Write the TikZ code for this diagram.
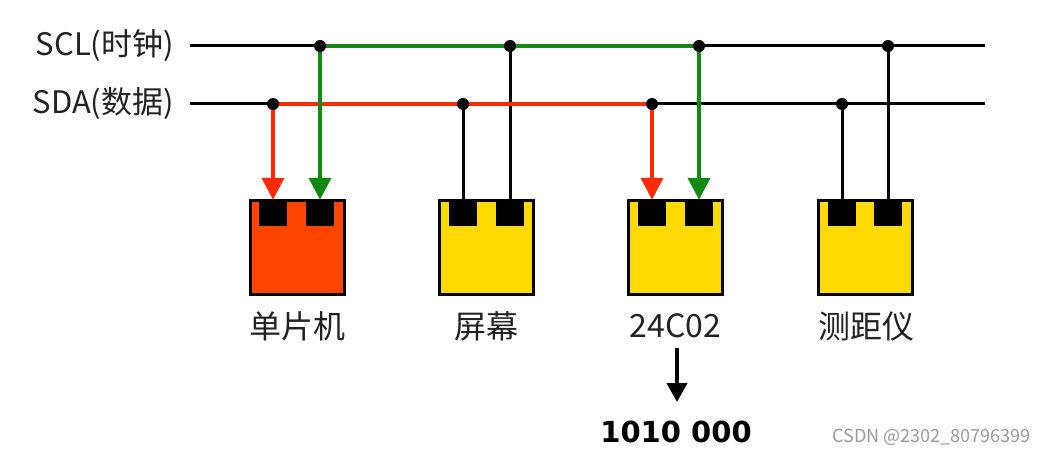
\documentclass[tikz,border=0pt]{standalone}
\usepackage{fontspec}
\setmainfont{Noto Sans CJK SC}
\newfontfamily\numfont{DejaVu Sans}
\usetikzlibrary{arrows.meta}
\definecolor{chipyellow}{HTML}{FFD900}
\definecolor{chiporange}{HTML}{FF4500}
\definecolor{sigred}{HTML}{FF2A00}
\definecolor{siggreen}{HTML}{108A10}
\definecolor{txt}{HTML}{222222}
\definecolor{wmgray}{HTML}{9A9A9A}
\begin{document}
\begin{tikzpicture}[x=1pt,y=-1pt,
  chip/.style={draw=black, line width=3pt, minimum width=94pt, minimum height=94pt, inner sep=0pt, fill=chipyellow},
  pin/.style={fill=black, minimum width=28pt, minimum height=26pt, inner sep=0pt},
  dot/.style={circle, fill=black, inner sep=0pt, minimum size=12pt},
  bus/.style={line width=3pt, black},
  wire/.style={line width=3pt, black},
  rline/.style={line width=4pt, sigred},
  gline/.style={line width=4pt, siggreen},
  rarrow/.style={rline, -{Triangle[width=22pt,length=22pt]}},
  garrow/.style={gline, -{Triangle[width=22pt,length=22pt]}},
  darrow/.style={line width=4pt, black, -{Triangle[width=20pt,length=19pt]}},
  lbl/.style={font=\fontsize{31}{34}\selectfont, text=txt, inner sep=0pt},
  clbl/.style={font=\fontsize{32}{36}\selectfont, text=txt, inner sep=0pt},
  addrlbl/.style={font=\numfont\bfseries\fontsize{29}{32}\selectfont, text=black, inner sep=0pt},
  wm/.style={font=\fontsize{18}{20}\selectfont, text=wmgray, inner sep=0pt}
]
\useasboundingbox (0,0) rectangle (1056,457);

% bus labels
\node[lbl, anchor=east] (sclLabel) at (174,46) {SCL(时钟)};
\node[lbl, anchor=east] (sdaLabel) at (174,104) {SDA(数据)};

% bus ends
\coordinate (sclL) at (190,46);
\coordinate (sclR) at (985,46);
\coordinate (sdaL) at (190,104);
\coordinate (sdaR) at (985,104);

% junctions
\coordinate (c1) at (320,46);
\coordinate (c2) at (510,46);
\coordinate (c3) at (699,46);
\coordinate (c4) at (888,46);
\coordinate (d1) at (273,104);
\coordinate (d2) at (463,104);
\coordinate (d3) at (652,104);
\coordinate (d4) at (842,104);

% chips
\node[chip, fill=chiporange] (m1) at (297,247) {};
\node[chip] (m2) at (486.5,247) {};
\node[chip] (m3) at (675.5,247) {};
\node[chip] (m4) at (865,247) {};

% pins
\node[pin] (m1a) at (273,213) {};
\node[pin] (m1b) at (320,213) {};
\node[pin] (m2a) at (463,213) {};
\node[pin] (m2b) at (510,213) {};
\node[pin] (m3a) at (652,213) {};
\node[pin] (m3b) at (699,213) {};
\node[pin] (m4a) at (842,213) {};
\node[pin] (m4b) at (888,213) {};

% buses
\draw[bus] (sclL) -- (sclR);
\draw[bus] (sdaL) -- (sdaR);

% black drops
\draw[wire] (d2) -- (m2a.north);
\draw[wire] (c2) -- (m2b.north);
\draw[wire] (d4) -- (m4a.north);
\draw[wire] (c4) -- (m4b.north);

% red data path
\draw[rline] (d1) -- (d3);
\draw[rarrow] (d1) -- (m1a.north);
\draw[rarrow] (d3) -- (m3a.north);

% green clock path
\draw[gline] (c1) -- (c3);
\draw[garrow] (c1) -- (m1b.north);
\draw[garrow] (c3) -- (m3b.north);

% junction dots
\node[dot] (jc1) at (c1) {};
\node[dot] (jc2) at (c2) {};
\node[dot] (jc3) at (c3) {};
\node[dot] (jc4) at (c4) {};
\node[dot] (jd1) at (d1) {};
\node[dot] (jd2) at (d2) {};
\node[dot] (jd3) at (d3) {};
\node[dot] (jd4) at (d4) {};

% chip labels
\node[clbl] (l1) at (297,326) {单片机};
\node[clbl] (l2) at (486.5,326) {屏幕};
\node[clbl] (l3) at (675.5,326) {24C02};
\node[clbl] (l4) at (866,326) {测距仪};

% address arrow
\coordinate (arrTop) at (677,348);
\coordinate (arrTip) at (677,402);
\draw[darrow] (arrTop) -- (arrTip);
\node[addrlbl] (addr) at (676,432) {1010 000};

% watermark
\node[wm, anchor=east] (wmark) at (1031,437) {CSDN @2302\_80796399};
\end{tikzpicture}
\end{document}
